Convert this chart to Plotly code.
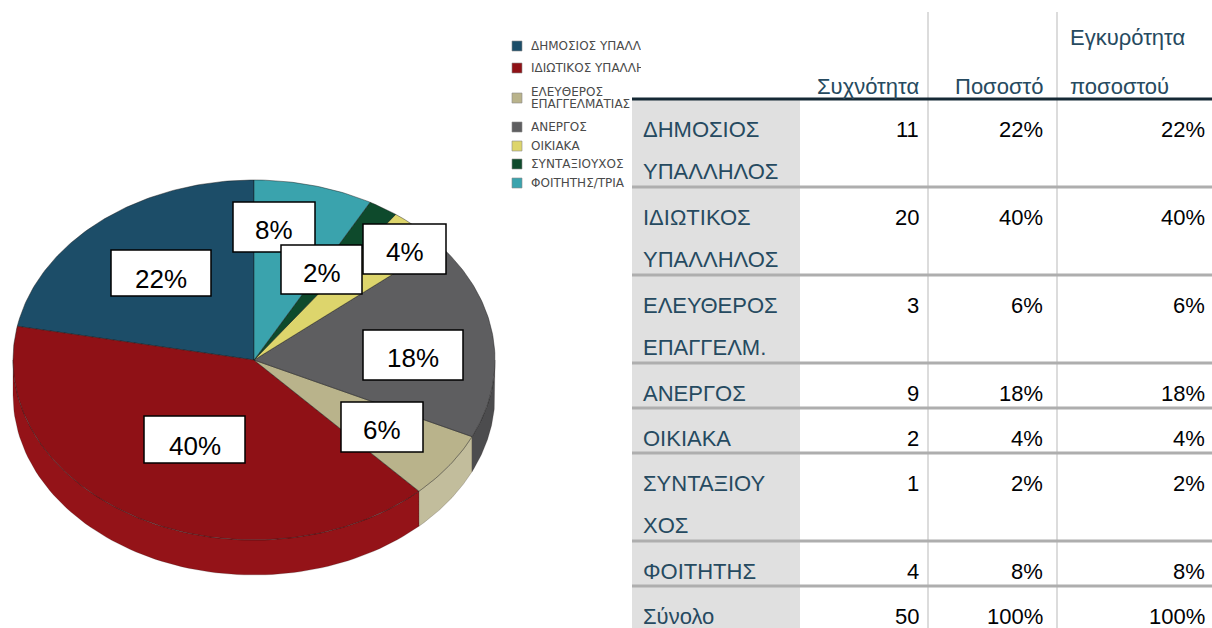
import numpy as np
import plotly.graph_objects as go

# ---------------- data ----------------
categories = ["ΔΗΜΟΣΙΟΣ ΥΠΑΛΛΗΛΟΣ", "ΙΔΙΩΤΙΚΟΣ ΥΠΑΛΛΗΛΟΣ", "ΕΛΕΥΘΕΡΟΣ ΕΠΑΓΓΕΛΜ.",
              "ΑΝΕΡΓΟΣ", "ΟΙΚΙΑΚΑ", "ΣΥΝΤΑΞΙΟΥΧΟΣ", "ΦΟΙΤΗΤΗΣ"]
table_labels = ["ΔΗΜΟΣΙΟΣ<br>ΥΠΑΛΛΗΛΟΣ", "ΙΔΙΩΤΙΚΟΣ<br>ΥΠΑΛΛΗΛΟΣ", "ΕΛΕΥΘΕΡΟΣ<br>ΕΠΑΓΓΕΛΜ.",
                "ΑΝΕΡΓΟΣ", "ΟΙΚΙΑΚΑ", "ΣΥΝΤΑΞΙΟΥ<br>ΧΟΣ", "ΦΟΙΤΗΤΗΣ"]
legend_labels = ["ΔΗΜΟΣΙΟΣ ΥΠΑΛΛΗΛΟΣ", "ΙΔΙΩΤΙΚΟΣ ΥΠΑΛΛΗΛΟΣ", "ΕΛΕΥΘΕΡΟΣ<br>ΕΠΑΓΓΕΛΜΑΤΙΑΣ",
                 "ΑΝΕΡΓΟΣ", "ΟΙΚΙΑΚΑ", "ΣΥΝΤΑΞΙΟΥΧΟΣ", "ΦΟΙΤΗΤΗΣ/ΤΡΙΑ"]
frequency = [11, 20, 3, 9, 2, 1, 4]
percent = [22, 40, 6, 18, 4, 2, 8]
valid_percent = [22, 40, 6, 18, 4, 2, 8]
headers = ["Συχνότητα", "Ποσοστό", "Εγκυρότητα<br>ποσοστού"]
total_label = "Σύνολο"
total_frequency = 50
total_percent = 100
total_valid_percent = 100

# ---------------- style ----------------
FONT = "Liberation Sans, Arial, sans-serif"
top_colors = ["#1c4d68", "#8f1116", "#b9b38b", "#5e5e60", "#ddd56c", "#0e4a2c", "#3aa3ad"]
side_colors = ["#163f56", "#941318", "#c2bd9c", "#4c4c4e", "#c9c25e", "#0b3a22", "#2f8890"]
# label box rectangles (x0, y0, x1, y1) in pixels, and text nudges
label_boxes = [(111, 250, 211, 296), (144, 416, 245, 463), (341, 402, 423, 452),
               (363, 330, 463, 380), (363, 224, 446, 274), (281, 245, 362, 294),
               (233, 202, 315, 252)]
label_nudge = [-6, -6, -3, -3, -3, -3, -3]
box_order = [0, 1, 2, 3, 6, 5, 4]

CX, CY, RX, RY, DEPTH = 254, 360, 241, 180, 35

W, H = 1212, 628
fig = go.Figure()


def ell(theta_deg, dy=0.0):
    t = np.radians(theta_deg)
    return CX - RX * np.sin(t), CY - RY * np.cos(t) + dy


total = float(sum(percent))
bounds = np.concatenate([[0.0], np.cumsum(percent) / total * 360.0])

# side faces (front, lower half of ellipse)
for i in range(len(percent)):
    a0, a1 = max(bounds[i], 90.0), min(bounds[i + 1], 270.0)
    if a1 <= a0:
        continue
    th = np.linspace(a0, a1, 80)
    xt, yt = ell(th)
    xb, yb = ell(th[::-1], DEPTH)
    fig.add_trace(go.Scatter(
        x=np.concatenate([xt, xb, xt[:1]]), y=np.concatenate([yt, yb, yt[:1]]),
        fill="toself", fillcolor=side_colors[i], mode="lines",
        line=dict(color="rgba(30,20,20,0.25)", width=0.8),
        hoverinfo="skip", showlegend=False))

# top faces
for i in range(len(percent)):
    th = np.linspace(bounds[i], bounds[i + 1], max(int(percent[i] * 4), 12))
    xe, ye = ell(th)
    fig.add_trace(go.Scatter(
        x=np.concatenate([[CX], xe, [CX]]), y=np.concatenate([[CY], ye, [CY]]),
        fill="toself", fillcolor=top_colors[i], mode="lines",
        line=dict(color="rgba(20,20,20,0.55)", width=0.8),
        name=categories[i], hoveron="fills",
        text=f"{categories[i]}: {percent[i]}%", hoverinfo="text", showlegend=False))

shapes = []
annotations = []

# percentage label boxes
for i in box_order:
    x0, y0, x1, y1 = label_boxes[i]
    shapes.append(dict(type="rect", xref="x", yref="y", x0=x0, y0=y0, x1=x1, y1=y1,
                       fillcolor="white", line=dict(color="black", width=1.5), layer="above"))
for i in box_order:
    x0, y0, x1, y1 = label_boxes[i]
    annotations.append(dict(x=(x0 + x1) / 2, y=(y0 + y1) / 2, xref="x", yref="y",
                            text=f"{percent[i]}%", showarrow=False, yshift=label_nudge[i],
                            font=dict(family=FONT, size=26, color="black")))

# legend (small)
legend_y = [46, 68, 98, 127, 146, 164, 183]
for i, lab in enumerate(legend_labels):
    yc = legend_y[i]
    shapes.append(dict(type="rect", xref="x", yref="y", x0=512, x1=522, y0=yc - 5, y1=yc + 5,
                       fillcolor=top_colors[i], line=dict(color="#8a8a8a", width=0.6), layer="above"))
    lines = lab.split("<br>")
    off = (len(lines) - 1) * 12 / 2
    for k, ln in enumerate(lines):
        annotations.append(dict(x=529, y=yc - off + 12 * k, xref="x", yref="y", text=ln,
                                showarrow=False, xanchor="left", yanchor="middle", align="left",
                                width=110, font=dict(family="DejaVu Sans, sans-serif", size=12,
                                                     color="#4a4a4a")))

# ---------------- table ----------------
T_LEFT, T_RIGHT, C1_RIGHT = 632, 1212, 800
VLINES = [928, 1057]
NUM_RIGHT = [921, 1045, 1207]
HEAD_Y = 99
LABEL_COLOR = "#264a60"
NUM_COLOR = "#010205"
TFS = 22

rows_lab = table_labels + [total_label]
rows_vals = [[frequency[i], f"{percent[i]}%", f"{valid_percent[i]}%"] for i in range(len(frequency))]
rows_vals.append([total_frequency, f"{total_percent}%", f"{total_valid_percent}%"])

tops = [HEAD_Y]
for lab in rows_lab:
    n = lab.count("<br>") + 1
    tops.append(tops[-1] + 45 + 43 * (n - 1))

shapes.append(dict(type="rect", xref="x", yref="y", x0=T_LEFT, x1=C1_RIGHT, y0=HEAD_Y, y1=H,
                   fillcolor="#e0e0e0", line=dict(width=0), layer="below"))
for vx in VLINES:
    shapes.append(dict(type="line", xref="x", yref="y", x0=vx, x1=vx, y0=12, y1=H,
                       line=dict(color="#dcdcdc", width=2), layer="below"))
for yb in tops[1:-1]:
    if yb >= H:
        continue
    shapes.append(dict(type="line", xref="x", yref="y", x0=T_LEFT, x1=T_RIGHT, y0=yb, y1=yb,
                       line=dict(color="#aeaeae", width=3), layer="above"))
shapes.append(dict(type="line", xref="x", yref="y", x0=T_LEFT, x1=T_RIGHT, y0=HEAD_Y, y1=HEAD_Y,
                   line=dict(color="#152935", width=3), layer="above"))

# headers
for j, hd in enumerate(headers):
    lines = hd.split("<br>")
    for k, ln in enumerate(lines):
        yy = 86 - 49 * (len(lines) - 1 - k)
        if j < 2:
            annotations.append(dict(x=NUM_RIGHT[j], y=yy, xref="x", yref="y", text=ln, showarrow=False,
                                    xanchor="right", yanchor="middle",
                                    font=dict(family=FONT, size=TFS, color=LABEL_COLOR)))
        else:
            annotations.append(dict(x=VLINES[1] + 11, y=yy, xref="x", yref="y", text=ln, showarrow=False,
                                    xanchor="left", yanchor="middle",
                                    font=dict(family=FONT, size=TFS, color=LABEL_COLOR)))

for r, lab in enumerate(rows_lab):
    top = tops[r]
    for k, ln in enumerate(lab.split("<br>")):
        annotations.append(dict(x=641, y=top + 30 + 42 * k, xref="x", yref="y", text=ln, showarrow=False,
                                xanchor="left", yanchor="middle",
                                font=dict(family=FONT, size=TFS, color=LABEL_COLOR)))
    for j, v in enumerate(rows_vals[r]):
        annotations.append(dict(x=NUM_RIGHT[j], y=top + 30, xref="x", yref="y", text=str(v), showarrow=False,
                                xanchor="right", yanchor="middle",
                                font=dict(family=FONT, size=TFS, color=NUM_COLOR)))

fig.update_layout(
    width=W, height=H, margin=dict(l=0, r=0, t=0, b=0),
    paper_bgcolor="white", plot_bgcolor="white", showlegend=False,
    xaxis=dict(range=[0, W], visible=False, fixedrange=True),
    yaxis=dict(range=[H, 0], visible=False, fixedrange=True),
    shapes=shapes, annotations=annotations,
)

fig.write_html("out.html")
